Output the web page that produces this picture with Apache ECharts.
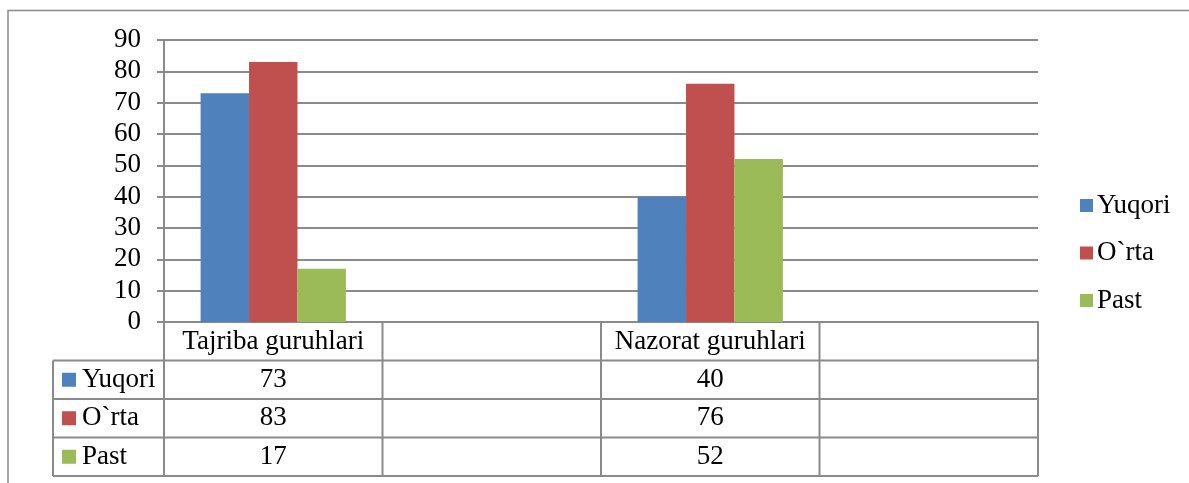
<!DOCTYPE html>
<html>
<head>
<meta charset="utf-8">
<script src="https://cdn.jsdelivr.net/npm/echarts@6/dist/echarts.min.js"></script>
<style>
html,body{margin:0;padding:0;background:#fff;}
#c{width:1189px;height:483px;}
</style>
</head>
<body>
<div id="c"></div>
<script>
var categories = ['Tajriba guruhlari', '', 'Nazorat guruhlari', ''];
var seriesNames = ['Yuqori', 'O`rta', 'Past'];
var yuqori = [73, null, 40, null];
var orta = [83, null, 76, null];
var past = [17, null, 52, null];
var yTicks = [0, 10, 20, 30, 40, 50, 60, 70, 80, 90];

var colors = ['#4F81BD', '#C0504D', '#9BBB59'];
var FONT = 'Liberation Serif';
var FS = 27;
var LINE = '#8a8a8a';
var values = [yuqori, orta, past];

var chart = echarts.init(document.getElementById('c'), null, {renderer: 'canvas'});
var option = {
  animation: false,
  backgroundColor: '#fff',
  color: colors,
  textStyle: {fontFamily: FONT},
  grid: {left: 164, right: 151, top: 40, bottom: 161, containLabel: false},
  legend: {
    orient: 'vertical',
    left: 1080,
    top: 192,
    padding: 0,
    icon: 'rect',
    itemWidth: 13,
    itemHeight: 13,
    itemGap: 20.5,
    textStyle: {fontFamily: FONT, fontSize: FS, color: '#000', padding: [0, 0, 0, -1]},
    data: seriesNames
  },
  xAxis: {
    type: 'category',
    data: categories,
    axisLine: {show: true, lineStyle: {color: LINE, width: 2}},
    axisTick: {show: false},
    axisLabel: {fontFamily: FONT, fontSize: FS, color: '#000', margin: 6, interval: 0},
    splitLine: {show: false}
  },
  yAxis: {
    type: 'value',
    min: yTicks[0],
    max: yTicks[yTicks.length - 1],
    interval: 10,
    axisLine: {show: true, lineStyle: {color: LINE, width: 2}},
    axisTick: {show: true, length: 7, lineStyle: {color: LINE, width: 2}},
    axisLabel: {fontFamily: FONT, fontSize: FS, color: '#000', margin: 23},
    splitLine: {show: true, lineStyle: {color: LINE, width: 2}}
  },
  series: seriesNames.map(function (n, i) {
    return {
      name: n,
      type: 'bar',
      data: values[i],
      barGap: '0%',
      barCategoryGap: '33.5%',
      itemStyle: {color: colors[i]}
    };
  })
};
chart.setOption(option);

function buildTable() {
  var c0 = chart.convertToPixel({xAxisIndex: 0}, 0);
  var c1 = chart.convertToPixel({xAxisIndex: 0}, 1);
  var w = c1 - c0;
  var x0 = c0 - w / 2;
  var yBase = chart.convertToPixel({yAxisIndex: 0}, 0);
  var rowH = 38.5;
  var leftX = 53;
  var xEnd = x0 + w * categories.length;
  var els = [];
  var ls = {stroke: LINE, lineWidth: 2};
  els.push({type: 'rect', shape: {x: 8, y: 10.5, width: 1400, height: 800}, style: {fill: null, stroke: '#8a8a8a', lineWidth: 1.5}, silent: true});
  for (var r = 1; r <= seriesNames.length + 1; r++) {
    var y = yBase + r * rowH;
    els.push({type: 'line', shape: {x1: leftX, y1: y, x2: xEnd, y2: y}, style: ls});
  }
  var yBottom = yBase + (seriesNames.length + 1) * rowH;
  els.push({type: 'line', shape: {x1: leftX, y1: yBase + rowH, x2: leftX, y2: yBottom}, style: ls});
  for (var k = 0; k <= categories.length; k++) {
    var x = x0 + k * w;
    els.push({type: 'line', shape: {x1: x, y1: yBase, x2: x, y2: yBottom}, style: ls});
  }
  seriesNames.forEach(function (n, i) {
    var cy = yBase + (i + 1.5) * rowH;
    els.push({type: 'rect', shape: {x: 62, y: cy - 7, width: 14, height: 14}, style: {fill: colors[i]}});
    els.push({type: 'text', x: 82, y: cy, style: {text: n, fontFamily: FONT, fontSize: FS, fill: '#000', align: 'left', verticalAlign: 'middle'}});
    values[i].forEach(function (v, j) {
      if (v === null || v === undefined) return;
      els.push({type: 'text', x: x0 + (j + 0.5) * w, y: cy, style: {text: String(v), fontFamily: FONT, fontSize: FS, fill: '#000', align: 'center', verticalAlign: 'middle'}});
    });
  });
  chart.setOption({graphic: {elements: els}});
}
buildTable();
</script>
</body>
</html>
